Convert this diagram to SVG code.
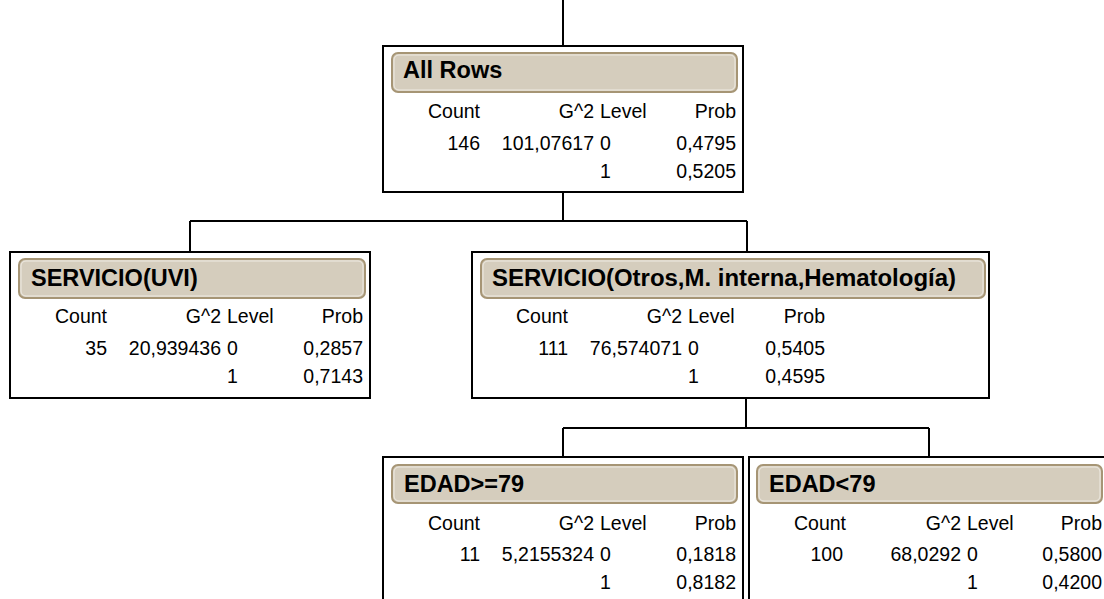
<svg xmlns="http://www.w3.org/2000/svg" width="1104" height="599" viewBox="0 0 1104 599">
<style>
.box{fill:#fff;stroke:#000;stroke-width:2}
.hdr{fill:#D5CDBD;stroke:#A69575;stroke-width:2}
.hl{fill:none;stroke:#EFEBE3;stroke-width:1}
.ht{font-family:"Liberation Sans",Arial,sans-serif;font-weight:bold;font-size:23.5px;fill:#000}
.t{font-family:"Liberation Sans",Arial,sans-serif;font-size:19.5px;fill:#000}
.e{text-anchor:end}
.conn{fill:none;stroke:#000;stroke-width:2}
</style>
<rect width="1104" height="599" fill="#fff"/>
<g id="connectors">
<path class="conn" d="M563 0V46"/>
<path class="conn" d="M563 192V221M190 221H747M190 221V252M747 221V252"/>
<path class="conn" d="M746 398V428M563 428H929M563 428V457M929 428V457"/>
</g>
<g id="root">
<rect class="box" x="383" y="46" width="360" height="146"/>
<rect class="hdr" x="392" y="53" width="345" height="39" rx="6"/>
<rect class="hl" x="394" y="55" width="341" height="35" rx="5"/>
<text class="ht" x="403" y="78">All Rows</text>
<text class="t e" x="480" y="118">Count</text>
<text class="t e" x="594" y="118">G^2</text>
<text class="t" x="600" y="118">Level</text>
<text class="t e" x="736" y="118">Prob</text>
<text class="t e" x="480" y="150">146</text>
<text class="t e" x="594" y="150">101,07617</text>
<text class="t" x="600" y="150">0</text>
<text class="t e" x="736" y="150">0,4795</text>
<text class="t" x="600" y="178">1</text>
<text class="t e" x="736" y="178">0,5205</text>
</g>
<g id="uvi">
<rect class="box" x="10" y="252" width="360" height="146"/>
<rect class="hdr" x="19" y="259" width="346" height="39" rx="6"/>
<rect class="hl" x="21" y="261" width="342" height="35" rx="5"/>
<text class="ht" x="31" y="286">SERVICIO(UVI)</text>
<text class="t e" x="107" y="323">Count</text>
<text class="t e" x="221" y="323">G^2</text>
<text class="t" x="227" y="323">Level</text>
<text class="t e" x="363" y="323">Prob</text>
<text class="t e" x="107" y="355">35</text>
<text class="t e" x="221" y="355">20,939436</text>
<text class="t" x="227" y="355">0</text>
<text class="t e" x="363" y="355">0,2857</text>
<text class="t" x="227" y="383">1</text>
<text class="t e" x="363" y="383">0,7143</text>
</g>
<g id="otros">
<rect class="box" x="472" y="252" width="517" height="146"/>
<rect class="hdr" x="481" y="259" width="504" height="39" rx="6"/>
<rect class="hl" x="483" y="261" width="500" height="35" rx="5"/>
<text class="ht" x="492" y="286" textLength="464" lengthAdjust="spacingAndGlyphs">SERVICIO(Otros,M. interna,Hematología)</text>
<text class="t e" x="568" y="323">Count</text>
<text class="t e" x="682" y="323">G^2</text>
<text class="t" x="688" y="323">Level</text>
<text class="t e" x="825" y="323">Prob</text>
<text class="t e" x="568" y="355">111</text>
<text class="t e" x="682" y="355">76,574071</text>
<text class="t" x="688" y="355">0</text>
<text class="t e" x="825" y="355">0,5405</text>
<text class="t" x="688" y="383">1</text>
<text class="t e" x="825" y="383">0,4595</text>
</g>
<g id="edad-ge79">
<rect class="box" x="383" y="457" width="360" height="160"/>
<rect class="hdr" x="392" y="465" width="345" height="38" rx="6"/>
<rect class="hl" x="394" y="467" width="341" height="34" rx="5"/>
<text class="ht" x="404" y="492">EDAD&gt;=79</text>
<text class="t e" x="480" y="530">Count</text>
<text class="t e" x="594" y="530">G^2</text>
<text class="t" x="600" y="530">Level</text>
<text class="t e" x="736" y="530">Prob</text>
<text class="t e" x="480" y="561">11</text>
<text class="t e" x="594" y="561">5,2155324</text>
<text class="t" x="600" y="561">0</text>
<text class="t e" x="736" y="561">0,1818</text>
<text class="t" x="600" y="589">1</text>
<text class="t e" x="736" y="589">0,8182</text>
</g>
<g id="edad-lt79">
<rect class="box" x="749" y="457" width="360" height="160"/>
<rect class="hdr" x="757" y="465" width="345" height="38" rx="6"/>
<rect class="hl" x="759" y="467" width="341" height="34" rx="5"/>
<text class="ht" x="769" y="492">EDAD&lt;79</text>
<text class="t e" x="846" y="530">Count</text>
<text class="t e" x="961" y="530">G^2</text>
<text class="t" x="967" y="530">Level</text>
<text class="t e" x="1102" y="530">Prob</text>
<text class="t e" x="843" y="561">100</text>
<text class="t e" x="961" y="561">68,0292</text>
<text class="t" x="967" y="561">0</text>
<text class="t e" x="1102" y="561">0,5800</text>
<text class="t" x="967" y="589">1</text>
<text class="t e" x="1102" y="589">0,4200</text>
</g>
</svg>
